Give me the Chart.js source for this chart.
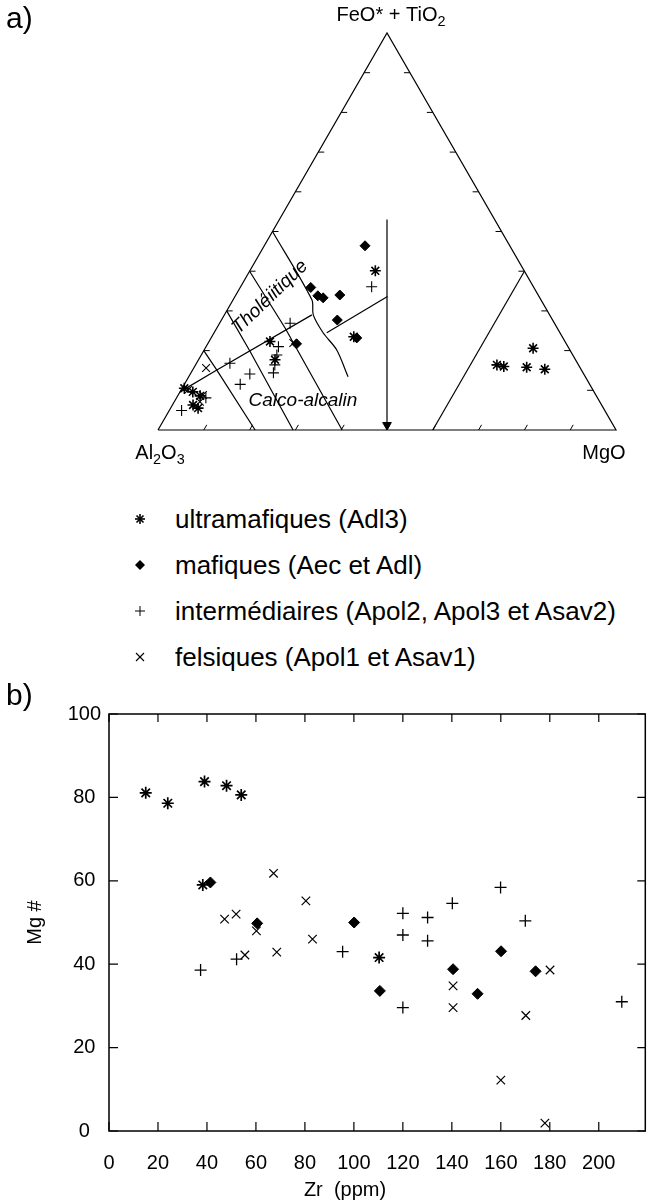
<!DOCTYPE html>
<html>
<head>
<meta charset="utf-8">
<script src="https://cdn.jsdelivr.net/npm/chart.js@4.4.0/dist/chart.umd.min.js"></script>
<style>
body { margin: 0; background: #fff; width: 653px; height: 1202px; position: relative; overflow: hidden;
       font-family: "Liberation Sans", Arial, sans-serif; color: #000; }
#ternChart { position: absolute; left: 0; top: 0; }
#zrChart { position: absolute; left: 0; top: 680px; }
.panel { position: absolute; left: 6px; font-size: 30px; line-height: 30px; }
.leg { position: absolute; left: 0; width: 653px; height: 30px; font-size: 26px; line-height: 30px; }
.leg svg { position: absolute; left: 132px; top: 7px; }
.leg span { position: absolute; left: 175px; top: 0; white-space: nowrap; }
</style>
</head>
<body>
<canvas id="ternChart" width="653" height="480"></canvas>
<div class="panel" style="top:3px">a)</div>

<div class="leg" style="top:504px">
  <svg width="16" height="16"><g stroke="#000" stroke-width="1.6"><line x1="3" y1="8" x2="13" y2="8"/><line x1="8" y1="3" x2="8" y2="13"/><line x1="4.5" y1="4.5" x2="11.5" y2="11.5"/><line x1="11.5" y1="4.5" x2="4.5" y2="11.5"/></g></svg>
  <span>ultramafiques (Adl3)</span>
</div>
<div class="leg" style="top:550px">
  <svg width="16" height="16"><polygon points="8,3 13,8 8,13 3,8" fill="#000"/></svg>
  <span>mafiques (Aec et Adl)</span>
</div>
<div class="leg" style="top:596px">
  <svg width="16" height="16"><g stroke="#000" stroke-width="1"><line x1="3" y1="8" x2="13" y2="8"/><line x1="8" y1="3" x2="8" y2="13"/></g></svg>
  <span>intermédiaires (Apol2, Apol3 et Asav2)</span>
</div>
<div class="leg" style="top:642px">
  <svg width="16" height="16"><g stroke="#000" stroke-width="1.1"><line x1="4" y1="4" x2="12" y2="12"/><line x1="12" y1="4" x2="4" y2="12"/></g></svg>
  <span>felsiques (Apol1 et Asav1)</span>
</div>

<canvas id="zrChart" width="653" height="522"></canvas>
<div class="panel" style="top:680px">b)</div>

<script>
const FONT = '"Liberation Sans", Arial, sans-serif';

// ---- a) ternary plot, compositions as [Al2O3, FeO*+TiO2, MgO] (%) ----
const ultraTern = [[32.5, 40.1, 27.4], [64.4, 22.3, 13.3], [65.6, 17.7, 16.7], [45.5, 23.5, 31.0],
                   [7.8, 20.6, 71.6], [17.8, 16.4, 65.8], [16.5, 16.0, 67.5], [11.6, 15.8, 72.6], [7.9, 15.3, 76.8],
                   [89.0, 10.5, 0.5], [87.6, 9.6, 2.8], [86.5, 8.6, 4.9], [89.2, 6.3, 4.5], [88.5, 5.5, 6.0]];
const mafTern = [[31.6, 46.4, 22.0], [48.7, 35.9, 15.4], [48.2, 33.8, 18.0], [47.3, 33.3, 19.4],
                 [43.3, 34.0, 22.7], [47.0, 27.7, 25.3], [45.0, 23.2, 31.8], [58.9, 21.7, 19.4]];
const interTern = [[35.3, 36.1, 28.6], [57.7, 26.9, 15.4], [63.2, 21.0, 15.8], [64.6, 18.9, 16.5],
                   [66.3, 16.4, 17.3], [67.6, 14.4, 18.0], [72.9, 14.1, 13.0], [76.3, 11.5, 12.2],
                   [75.9, 16.8, 7.3], [92.4, 4.9, 2.7], [85.5, 8.1, 6.4]];
const felsTern = [[59.5, 21.9, 18.6], [81.7, 15.6, 2.7], [88.4, 10.1, 1.5], [85.8, 8.8, 5.4], [87.3, 7.1, 5.6]];

// field boundaries
const triangleEdge = [[100, 0, 0], [0, 100, 0], [0, 0, 100], [100, 0, 0]];
const komatiiteLine = [[40, 0, 60], [0, 40, 60]];
const axisLine = [[23.5, 53, 23.5], [50, 0, 50]];
const arrowTip = [[49.37, 1.26, 49.37]];
const thcaLeft = [[90.4, 9.6, 0], [79.6, 15.1, 5.3], [51.9, 29.0, 19.1]];
const thcaRight = [[50.9, 24.5, 24.6], [33.1, 33.6, 33.3]];
const line50 = [[50, 50, 0], [50.0, 32.8, 17.2], [51.6, 29.0, 19.4], [51.7, 24.5, 23.8], [50.9, 20.2, 28.9], [51.8, 13.4, 34.8]];
const line60 = [[60, 40, 0], [59.4, 25.7, 14.9], [59.8, 0, 40.2]];
const line70 = [[70, 30, 0], [70.0, 19.9, 10.1], [70.5, 0, 29.5]];
const line80 = [[80, 20, 0], [79.6, 15.1, 5.3], [78.8, 0, 21.2]];
const edgeTicks = [10, 20, 30, 40, 50, 60, 70, 80, 90];

// ---- b) Mg# vs Zr ----
const ultraZr = [15, 24, 39, 48, 54, 38.3, 110.3];
const ultraMg = [81.1, 78.6, 83.8, 82.8, 80.6, 59.0, 41.6];
const mafZr = [41.4, 60.5, 100.1, 110.6, 140.5, 150.5, 160.1, 174.2];
const mafMg = [59.6, 49.8, 50.0, 33.6, 38.8, 32.9, 43.1, 38.3];
const interZr = [37.4, 52.1, 95.4, 120, 120, 120, 130.1, 130.1, 140.2, 159.9, 170, 209.4];
const interMg = [38.6, 41.2, 43.0, 52.2, 47.0, 29.6, 51.2, 45.6, 54.6, 58.4, 50.4, 31.0];
const felsZr = [47.2, 51.9, 55.5, 60.2, 67.2, 68.5, 80.4, 83.1, 140.5, 140.5, 160, 170.2, 180.1, 178];
const felsMg = [50.8, 52.0, 42.2, 48.0, 61.8, 42.9, 55.2, 46.0, 34.8, 29.6, 12.2, 27.7, 38.6, 1.9];
const zrTicks = [0, 20, 40, 60, 80, 100, 120, 140, 160, 180, 200];
const mgTicks = [0, 20, 40, 60, 80, 100];

// ternary -> cartesian (x: 0..100 along base, y: height)
function tern(p) {
    const s = p[0] + p[1] + p[2];
    const f = p[1] / s, m = p[2] / s;
    return { x: (m + f / 2) * 100, y: f * 100 * Math.sqrt(3) / 2 };
}

function lineSet(pts, extra) {
    return Object.assign({ data: pts.map(tern), showLine: true, pointRadius: 0, borderColor: '#000',
        borderWidth: 1.2, fill: false, clip: false }, extra || {});
}

function pointSet(pts, style, r, bw) {
    return { data: pts.map(tern), pointStyle: style, pointRadius: r, borderColor: '#000',
        backgroundColor: '#000', pointBorderWidth: bw, showLine: false, clip: false };
}

// draw text with subscripts, parts = [[text, isSub], ...]
function drawChem(ctx, parts, cx, cy, size) {
    const sub = size * 0.72;
    let w = 0;
    parts.forEach(([t, s]) => { ctx.font = (s ? sub : size) + 'px ' + FONT; w += ctx.measureText(t).width; });
    let xx = cx - w / 2;
    ctx.textBaseline = 'alphabetic';
    ctx.textAlign = 'left';
    parts.forEach(([t, s]) => {
        ctx.font = (s ? sub : size) + 'px ' + FONT;
        ctx.fillText(t, xx, s ? cy + size * 0.25 : cy);
        xx += ctx.measureText(t).width;
    });
}

const ternDecor = {
    id: 'ternDecor',
    afterDatasetsDraw(chart) {
        const { ctx, scales: { x, y } } = chart;
        const px = p => { const c = tern(p); return [x.getPixelForValue(c.x), y.getPixelForValue(c.y)]; };
        const seg = (a, b) => { ctx.beginPath(); ctx.moveTo(a[0], a[1]); ctx.lineTo(b[0], b[1]); ctx.stroke(); };
        ctx.save();
        ctx.strokeStyle = '#000';
        ctx.lineWidth = 1;
        edgeTicks.forEach(k => {
            seg(px([100 - k, k, 0]), px([100 - k - 1.3, k, 1.3]));
            seg(px([0, k, 100 - k]), px([1.3, k, 100 - k - 1.3]));
            seg(px([100 - k, 0, k]), px([100 - k - 1.3, 1.3, k]));
        });
        ctx.fillStyle = '#000';
        const top = px([0, 100, 0]), al = px([100, 0, 0]), mg = px([0, 0, 100]);
        drawChem(ctx, [['FeO* + TiO', false], ['2', true]], top[0] + 4, top[1] - 12, 20);
        drawChem(ctx, [['Al', false], ['2', true], ['O', false], ['3', true]], al[0] + 2, al[1] + 29, 20);
        drawChem(ctx, [['MgO', false]], mg[0] - 12, mg[1] + 29, 20);

        // field names
        ctx.font = 'italic 19px ' + FONT;
        ctx.textAlign = 'center';
        ctx.textBaseline = 'middle';
        const th = px([58.8, 33.5, 7.7]);
        ctx.save();
        ctx.translate(th[0], th[1]);
        ctx.rotate(-44 * Math.PI / 180);
        ctx.fillText('Tholéiitique', 0, 0);
        ctx.restore();
        const ca = px([64.7, 7.3, 28.0]);
        ctx.fillText('Calco-alcalin', ca[0], ca[1]);
        ctx.restore();
    }
};

new Chart(document.getElementById('ternChart'), {
    type: 'scatter',
    data: {
        datasets: [
            lineSet(triangleEdge),
            lineSet(komatiiteLine),
            lineSet(axisLine),
            lineSet(thcaLeft),
            lineSet(thcaRight),
            lineSet(line50, { tension: 0.3 }),
            lineSet(line60),
            lineSet(line70),
            lineSet(line80),
            { data: arrowTip.map(tern), pointStyle: 'triangle', rotation: 180, pointRadius: 5,
              backgroundColor: '#000', borderColor: '#000', clip: false },
            pointSet(ultraTern, 'star', 5.5, 1.6),
            pointSet(mafTern, 'rectRot', 5, 1),
            pointSet(interTern, 'cross', 5.5, 1.1),
            pointSet(felsTern, 'crossRot', 5.5, 1.1)
        ]
    },
    options: {
        responsive: false,
        animation: false,
        layout: { padding: { left: 158, right: 37, top: 33, bottom: 50 } },
        plugins: { legend: { display: false }, tooltip: { enabled: false } },
        scales: {
            x: { type: 'linear', min: 0, max: 100, display: false },
            y: { type: 'linear', min: 0, max: 100 * Math.sqrt(3) / 2, display: false }
        }
    },
    plugins: [ternDecor]
});

// frame, inner ticks and axis titles for the Zr plot
const zrFrame = {
    id: 'zrFrame',
    afterDraw(chart) {
        const { ctx, chartArea: a, scales: { x, y } } = chart;
        ctx.save();
        ctx.strokeStyle = '#000';
        ctx.lineWidth = 1.5;
        ctx.strokeRect(a.left, a.top, a.right - a.left, a.bottom - a.top);
        ctx.lineWidth = 1.2;
        zrTicks.forEach(v => {
            const p = x.getPixelForValue(v);
            ctx.beginPath();
            ctx.moveTo(p, a.bottom); ctx.lineTo(p, a.bottom - 9);
            ctx.moveTo(p, a.top); ctx.lineTo(p, a.top + 8);
            ctx.stroke();
        });
        mgTicks.forEach(v => {
            const p = y.getPixelForValue(v);
            ctx.beginPath();
            ctx.moveTo(a.left, p); ctx.lineTo(a.left + 9, p);
            ctx.moveTo(a.right, p); ctx.lineTo(a.right - 8, p);
            ctx.stroke();
        });
        ctx.fillStyle = '#000';
        ctx.font = '20px ' + FONT;
        ctx.textAlign = 'center';
        ctx.textBaseline = 'middle';
        ctx.fillText('Zr  (ppm)', 345, a.bottom + 59);
        ctx.translate(35, (a.top + a.bottom) / 2);
        ctx.rotate(-Math.PI / 2);
        ctx.fillText('Mg #', 0, 0);
        ctx.restore();
    }
};

function zip(xs, ys) { return xs.map((v, i) => ({ x: v, y: ys[i] })); }

function zrSet(xs, ys, style, r, bw) {
    return { data: zip(xs, ys), pointStyle: style, pointRadius: r, borderColor: '#000',
        backgroundColor: '#000', pointBorderWidth: bw, clip: false };
}

new Chart(document.getElementById('zrChart'), {
    type: 'scatter',
    data: {
        datasets: [
            zrSet(ultraZr, ultraMg, 'star', 6, 1.7),
            zrSet(mafZr, mafMg, 'rectRot', 5.5, 1),
            zrSet(interZr, interMg, 'cross', 6, 1.3),
            zrSet(felsZr, felsMg, 'crossRot', 6, 1.2)
        ]
    },
    options: {
        responsive: false,
        animation: false,
        layout: { padding: { left: 0, right: 1, top: 34, bottom: 0 } },
        plugins: { legend: { display: false }, tooltip: { enabled: false } },
        scales: {
            x: {
                type: 'linear', min: 0, max: 219,
                grid: { display: false }, border: { display: false },
                ticks: { stepSize: 20, includeBounds: false, color: '#000', padding: 12, maxRotation: 0,
                         font: { size: 20, family: FONT } },
                afterFit(s) { s.height = 71; }
            },
            y: {
                min: 0, max: 100,
                grid: { display: false }, border: { display: false },
                ticks: { stepSize: 20, color: '#000', padding: 0, crossAlign: 'center',
                         font: { size: 20, family: FONT } },
                afterFit(s) { s.width = 109; }
            }
        }
    },
    plugins: [zrFrame]
});
</script>
</body>
</html>
